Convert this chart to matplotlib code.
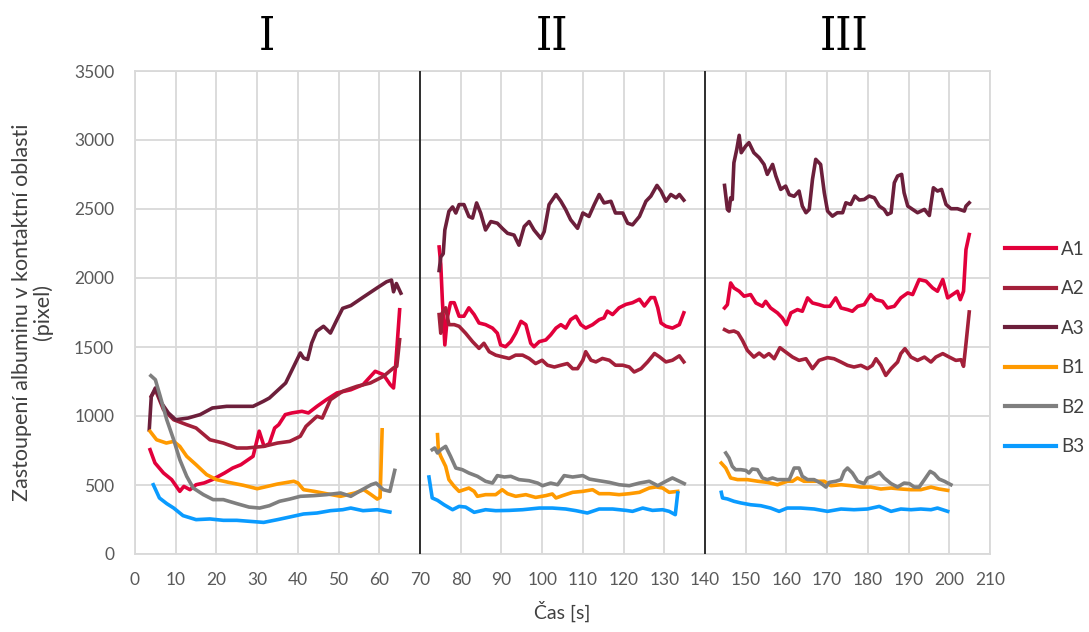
import numpy as np
import matplotlib
matplotlib.use("Agg")
import matplotlib.pyplot as plt

plt.rcParams['font.family'] = ['Lato', 'DejaVu Sans']

# ---- measured series: three runs (I, II, III), time [s] and albumin area [pixel] ----
# A1
a1_t1 = [3.7, 4.9, 7.0, 9.0, 11.0, 12.0, 13.5, 15.0, 17.0, 19.0, 22.0, 24.0, 26.0, 29.0, 30.5,
         31.7, 33.0, 34.3, 35.3, 36.9, 38.5, 41.0, 42.6, 44.7, 47.0, 49.6, 53.0, 56.0, 59.0, 61.0,
         62.7, 63.5, 64.0, 65.0]
a1_v1 = [756, 660, 587, 539, 454, 490, 466, 502, 515, 539, 587, 623, 647, 708, 890,
         780, 800, 913, 937, 1010, 1022, 1034, 1022, 1070, 1118, 1167, 1190, 1227, 1324, 1300,
         1227, 1203, 1360, 1770]
a1_t2 = [74.7, 75.1, 75.5, 76.1, 76.7, 77.5, 78.4, 79.6, 80.8, 82.0, 83.3, 84.5, 86.1, 87.8, 89.0,
         89.8, 91.0, 92.3, 93.5, 94.8, 96.0, 97.2, 98.0, 99.3, 100.9, 102.1, 103.4, 104.6, 105.8,
         107.0, 108.3, 109.5, 110.7, 112.4, 114.0, 115.2, 116.0, 117.3, 118.9, 120.6, 122.2, 123.9,
         125.1, 126.7, 127.6, 128.4, 129.2, 130.4, 132.0, 133.7, 134.8]
a1_v2 = [2225, 2100, 1833, 1515, 1711, 1821, 1821, 1723, 1723, 1784, 1735, 1674, 1662, 1637, 1600,
         1515, 1502, 1539, 1600, 1686, 1662, 1527, 1502, 1539, 1551, 1588, 1637, 1662, 1637,
         1698, 1723, 1662, 1637, 1662, 1698, 1711, 1760, 1735, 1784, 1809, 1821, 1846,
         1797, 1858, 1858, 1784, 1674, 1650, 1637, 1662, 1748]
a1_t3 = [144.8, 145.5, 146.3, 147.1, 148.4, 149.6, 151.2, 152.5, 154.1, 154.9, 156.1, 157.8, 159.0,
         160.0, 161.1, 162.7, 163.9, 165.2, 166.4, 168.0, 169.3, 170.7, 172.1, 173.4, 175.0, 176.2,
         177.5, 179.1, 180.7, 181.9, 183.6, 184.8, 186.5, 188.1, 189.8, 191.0, 192.6, 194.3, 195.9,
         197.1, 198.4, 199.6, 200.8, 202.0, 202.7, 203.5, 204.1, 204.9]
a1_v3 = [1783, 1807, 1964, 1928, 1904, 1868, 1880, 1819, 1795, 1831, 1783, 1747, 1710,
         1662, 1747, 1771, 1759, 1856, 1819, 1807, 1795, 1795, 1856, 1783, 1771, 1759,
         1795, 1807, 1880, 1843, 1831, 1783, 1795, 1856, 1892, 1880, 1989, 1977, 1928,
         1904, 1989, 1856, 1880, 1904, 1843, 1904, 2206, 2315]

# A2
a2_t1 = [4.0, 5.0, 7.0, 9.5, 12.7, 15.0, 18.4, 21.7, 25.0, 27.5, 31.6, 35.0, 38.0, 40.6, 42.0,
         44.7, 46.0, 48.0, 51.0, 54.5, 57.8, 61.0, 63.5, 64.3, 65.0]
a2_v1 = [1142, 1190, 1046, 973, 937, 913, 828, 804, 768, 768, 780, 804, 816, 853, 925,
         998, 985, 1118, 1179, 1215, 1239, 1287, 1348, 1360, 1553]
a2_t2 = [74.7, 75.1, 75.5, 76.3, 77.1, 78.4, 79.6, 81.2, 82.9, 84.5, 85.7, 87.0, 88.6, 90.2, 91.9,
         93.5, 95.2, 96.8, 98.4, 100.0, 101.3, 103.0, 104.6, 106.2, 107.5, 108.7, 110.0, 110.7,
         112.0, 113.2, 114.8, 116.5, 118.0, 119.8, 121.4, 122.6, 124.3, 125.9, 127.6, 128.8,
         130.4, 132.0, 133.7, 134.8]
a2_v2 = [1735, 1600, 1748, 1784, 1662, 1662, 1650, 1600, 1539, 1490, 1527, 1466, 1441, 1429, 1417,
         1441, 1441, 1417, 1380, 1404, 1368, 1355, 1368, 1380, 1343, 1343, 1404, 1466,
         1404, 1392, 1417, 1404, 1368, 1368, 1355, 1319, 1343, 1392, 1453, 1429,
         1392, 1404, 1436, 1392]
a2_t3 = [144.8, 145.9, 147.1, 148.1, 149.2, 150.4, 152.0, 153.3, 154.5, 155.7, 157.0, 158.4, 159.8,
         161.5, 163.1, 164.8, 166.4, 168.0, 170.1, 171.7, 173.4, 175.0, 176.6, 178.3, 179.9, 181.1,
         182.0, 183.2, 184.4, 185.7, 187.3, 188.1, 189.1, 190.6, 192.2, 193.9, 195.5, 196.7, 198.4,
         200.0, 201.6, 202.9, 203.5, 204.1, 204.9]
a2_v3 = [1626, 1609, 1616, 1602, 1548, 1476, 1427, 1456, 1427, 1452, 1415, 1495, 1464,
         1427, 1403, 1415, 1343, 1403, 1423, 1415, 1391, 1367, 1355, 1367, 1343, 1367,
         1415, 1367, 1294, 1343, 1391, 1452, 1488, 1427, 1403, 1427, 1391, 1427, 1452,
         1427, 1403, 1408, 1360, 1524, 1754]

# A3
a3_t1 = [3.5, 4.0, 5.0, 6.5, 8.2, 10.0, 13.0, 16.0, 19.0, 22.5, 25.7, 29.0, 31.5, 33.0, 34.8,
         37.0, 39.0, 40.6, 41.4, 42.4, 43.4, 44.6, 46.3, 48.0, 49.6, 51.0, 53.0, 56.0, 59.4,
         61.8, 63.0, 63.5, 64.2, 65.3]
a3_v1 = [900, 1142, 1203, 1094, 1022, 973, 985, 1010, 1058, 1070, 1070, 1070, 1106, 1130, 1179,
         1239, 1360, 1457, 1420, 1410, 1529, 1614, 1650, 1601, 1698, 1780, 1800, 1860, 1927,
         1973, 1985, 1900, 1960, 1890]
a3_t2 = [74.7, 75.1, 75.7, 76.1, 77.1, 78.0, 78.8, 79.6, 80.8, 82.0, 82.9, 83.9, 84.9, 86.1, 87.4,
         89.0, 90.2, 91.5, 93.1, 94.3, 95.6, 96.8, 98.0, 99.7, 100.5, 101.7, 103.4, 104.6, 105.8,
         107.0, 108.7, 110.0, 111.5, 112.8, 114.0, 115.2, 116.9, 118.0, 119.8, 121.0, 122.2, 123.9,
         125.5, 126.7, 128.2, 129.2, 130.4, 131.6, 132.9, 133.7, 134.8]
a3_v2 = [2054, 2152, 2176, 2348, 2483, 2515, 2471, 2532, 2532, 2446, 2434, 2544, 2471, 2348, 2409,
         2397, 2360, 2324, 2311, 2238, 2373, 2409, 2348, 2287, 2336, 2532, 2605, 2556, 2495,
         2422, 2360, 2471, 2446, 2532, 2605, 2544, 2556, 2471, 2471, 2397, 2385, 2446,
         2556, 2593, 2671, 2630, 2556, 2605, 2581, 2605, 2564]
a3_t3 = [144.8, 145.5, 145.9, 146.3, 146.7, 147.1, 147.8, 148.4, 148.9, 150.0, 150.8, 152.0, 153.3,
         154.5, 155.3, 156.6, 157.4, 158.6, 159.8, 160.7, 161.9, 163.1, 163.9, 164.8, 165.6, 166.4,
         167.2, 168.4, 169.3, 170.1, 171.3, 172.5, 173.8, 174.6, 175.8, 176.8, 177.9, 179.1, 180.3,
         181.6, 182.8, 184.0, 184.8, 185.7, 186.5, 187.3, 188.3, 188.9, 189.8, 191.0, 192.2, 193.9,
         195.1, 196.1, 197.1, 198.1, 199.2, 200.4, 202.0, 203.7, 204.1, 204.9]
a3_v3 = [2671, 2497, 2485, 2581, 2569, 2835, 2932, 3034, 2908, 2956, 2981, 2908, 2872,
         2823, 2751, 2823, 2739, 2642, 2666, 2604, 2592, 2630, 2521, 2473, 2497, 2715,
         2860, 2823, 2618, 2485, 2448, 2473, 2473, 2545, 2533, 2594, 2565, 2569, 2594,
         2581, 2521, 2497, 2460, 2473, 2690, 2739, 2751, 2618, 2521, 2497, 2473, 2497,
         2453, 2654, 2630, 2642, 2533, 2502, 2502, 2485, 2521, 2545]

# B1
b1_t1 = [3.7, 5.3, 7.7, 9.5, 11.0, 12.7, 15.0, 17.6, 20.0, 23.0, 26.6, 30.0, 31.5, 35.0, 39.0,
         40.0, 41.4, 44.0, 47.0, 50.5, 54.0, 56.2, 58.0, 59.5, 60.2, 60.7]
b1_v1 = [889, 828, 804, 816, 780, 708, 647, 575, 539, 519, 498, 473, 483, 507, 527,
         515, 466, 454, 437, 418, 442, 466, 430, 398, 410, 900]
b1_t2 = [74.3, 74.5, 75.1, 76.3, 77.1, 78.4, 79.6, 80.8, 82.0, 83.3, 84.1, 86.1, 88.6, 90.2, 91.5,
         93.5, 96.0, 98.4, 100.9, 102.5, 103.4, 105.0, 107.5, 110.0, 112.4, 114.0, 116.5, 118.9,
         121.4, 123.9, 126.3, 128.0, 129.6, 131.2, 133.3]
b1_v2 = [865, 756, 708, 635, 539, 490, 454, 466, 478, 454, 418, 430, 430, 466, 437,
         418, 430, 410, 423, 435, 406, 423, 447, 454, 466, 437, 437, 430,
         437, 447, 478, 486, 478, 447, 454]
b1_t3 = [144.0, 145.1, 146.3, 148.0, 150.4, 153.0, 155.3, 157.8, 160.2, 161.5, 162.7, 164.3, 166.8,
         169.3, 170.9, 173.4, 175.8, 178.3, 180.7, 183.2, 185.7, 188.1, 190.6, 193.0, 195.5, 197.5,
         199.6]
b1_v3 = [659, 623, 551, 539, 539, 527, 519, 502, 527, 527, 551, 527, 527,
         527, 495, 502, 495, 485, 485, 471, 478, 471, 466, 466, 485, 471,
         461]

# B2
b2_t1 = [3.9, 5.0, 6.2, 7.8, 9.5, 11.0, 12.7, 14.3, 16.8, 19.2, 21.7, 25.0, 28.0, 30.6, 33.0,
         35.5, 38.0, 40.6, 44.0, 47.0, 50.5, 53.0, 55.5, 58.0, 59.2, 61.0, 62.6, 63.8]
b2_v1 = [1292, 1263, 1142, 973, 828, 684, 563, 478, 430, 394, 394, 365, 340, 333, 350,
         382, 398, 418, 423, 430, 442, 418, 461, 502, 514, 466, 454, 606]
b2_t2 = [73.0, 73.6, 74.3, 75.1, 76.3, 77.5, 78.8, 80.4, 82.0, 84.1, 86.1, 87.8, 89.0, 90.7, 92.3,
         94.3, 96.8, 98.9, 100.1, 102.1, 103.8, 105.4, 107.5, 110.0, 111.6, 114.0, 116.5, 118.9,
         121.4, 123.9, 126.3, 128.4, 130.4, 132.0, 133.7, 134.9]
b2_v2 = [756, 768, 732, 756, 780, 708, 623, 611, 587, 563, 527, 514, 568, 558, 563,
         539, 531, 514, 495, 514, 502, 568, 558, 568, 543, 531, 519, 502,
         495, 514, 527, 495, 527, 551, 527, 510]
b2_t3 = [145.1, 145.9, 146.7, 147.5, 148.8, 150.0, 150.8, 151.6, 152.9, 154.1, 155.3, 156.6, 157.8,
         159.4, 160.7, 161.9, 163.1, 163.9, 165.2, 166.8, 168.4, 169.7, 170.5, 172.1, 173.4, 174.2,
         175.0, 176.2, 177.5, 179.1, 179.9, 181.1, 182.8, 184.0, 185.7, 187.3, 188.9, 190.2, 191.4,
         192.6, 193.9, 195.3, 196.3, 197.5, 198.8, 200.4]
b2_v3 = [732, 696, 635, 611, 611, 606, 587, 616, 611, 551, 539, 551, 539,
         539, 539, 623, 623, 563, 539, 539, 514, 485, 519, 527, 539, 599,
         623, 587, 527, 510, 551, 563, 592, 551, 510, 485, 514, 510, 485,
         485, 539, 599, 582, 543, 527, 502]

# B3
b3_t1 = [4.5, 6.0, 7.8, 9.5, 11.8, 15.0, 18.4, 21.7, 25.0, 28.0, 31.6, 35.0, 38.0, 41.4, 44.7,
         48.0, 51.0, 53.0, 56.0, 59.5, 62.6]
b3_v1 = [502, 406, 365, 333, 278, 249, 254, 244, 244, 237, 229, 249, 268, 290, 297,
         314, 321, 333, 314, 321, 304]
b3_t2 = [72.2, 73.0, 74.3, 75.9, 78.0, 79.6, 81.2, 83.3, 86.1, 88.6, 91.9, 95.2, 99.3, 102.5,
         105.8, 108.3, 111.1, 114.0, 117.3, 120.6, 122.2, 124.7, 127.1, 129.6, 131.2, 132.7, 133.3]
b3_v2 = [558, 406, 389, 357, 321, 345, 340, 302, 321, 314, 316, 321, 333, 333,
         326, 314, 297, 326, 326, 316, 309, 333, 316, 321, 309, 285, 442]
b3_t3 = [144.0, 144.3, 145.5, 147.1, 148.8, 151.2, 153.7, 156.1, 158.2, 160.2, 163.5, 166.8, 170.1,
         173.4, 176.6, 179.9, 182.8, 185.7, 188.1, 190.6, 193.0, 195.5, 197.1, 199.6]
b3_v3 = [447, 406, 399, 382, 370, 357, 350, 333, 309, 333, 333, 326, 309,
         326, 321, 326, 345, 309, 326, 321, 326, 321, 333, 309]

series_names = ["A1", "A2", "A3", "B1", "B2", "B3"]
series_colors = ["#E2003B", "#A3203A", "#6C1F3B", "#FF9A00", "#7F7F7F", "#0A9BFF"]
series_runs = [
    [(a1_t1, a1_v1), (a1_t2, a1_v2), (a1_t3, a1_v3)],
    [(a2_t1, a2_v1), (a2_t2, a2_v2), (a2_t3, a2_v3)],
    [(a3_t1, a3_v1), (a3_t2, a3_v2), (a3_t3, a3_v3)],
    [(b1_t1, b1_v1), (b1_t2, b1_v2), (b1_t3, b1_v3)],
    [(b2_t1, b2_v1), (b2_t2, b2_v2), (b2_t3, b2_v3)],
    [(b3_t1, b3_v1), (b3_t2, b3_v2), (b3_t3, b3_v3)],
]

run_labels = ["I", "II", "III"]
run_label_x = [32.4, 102.4, 174.2]
run_bounds = [70, 140]

fig = plt.figure(figsize=(10.89, 6.32), dpi=100)
ax = fig.add_axes([135 / 1089, 1 - 554 / 632, 855 / 1089, 483 / 632])

grid_col = "#D9D9D9"
tick_col = "#595959"

for name, col, runs in zip(series_names, series_colors, series_runs):
    for i, (t, v) in enumerate(runs):
        ax.plot(t, v, color=col, lw=2.6, solid_joinstyle="round",
                label=name if i == 0 else None, zorder=3)

for b in run_bounds:
    ax.axvline(b, color="black", lw=1.1, zorder=4)

ax.set_xlim(0, 210)
ax.set_ylim(0, 3500)
ax.set_xticks(np.arange(0, 211, 10))
ax.set_yticks(np.arange(0, 3501, 500))
ax.grid(True, color=grid_col, lw=1.3, zorder=0)
ax.set_axisbelow(True)
for s in ax.spines.values():
    s.set_color(grid_col)
    s.set_linewidth(1.3)
ax.tick_params(length=0, labelsize=12.5, colors=tick_col)
ax.tick_params(axis="x", pad=13)
ax.tick_params(axis="y", pad=15)

ax.set_xlabel("Čas [s]", fontsize=14, color="#404040", labelpad=9)
ax.set_ylabel("Zastoupení albuminu v kontaktní oblasti\n(pixel)", fontsize=15.5,
              color="#404040", labelpad=15, linespacing=1.0)

for lab, x in zip(run_labels, run_label_x):
    ax.text(x, 1.07, lab, transform=ax.get_xaxis_transform(), ha="center", va="center",
            fontsize=33, family="DejaVu Serif", fontstretch="condensed", color="black")

leg = fig.legend(loc="center left", bbox_to_anchor=(1005 / 1089, 1 - 348 / 632),
                 frameon=False, fontsize=13.5, handlelength=2.7, handletextpad=0.3,
                 labelspacing=1.2, borderaxespad=0, borderpad=0)
for line in leg.get_lines():
    line.set_linewidth(3)
for txt in leg.get_texts():
    txt.set_color("#404040")

fig.savefig("out.png", dpi=100)
